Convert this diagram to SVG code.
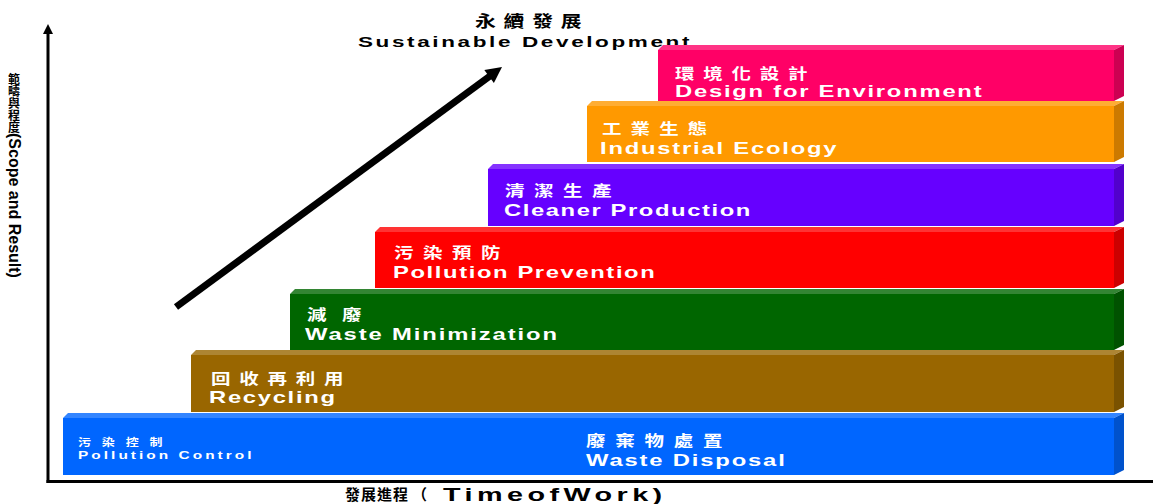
<svg xmlns="http://www.w3.org/2000/svg" width="1153" height="504" viewBox="0 0 1153 504">
<style>
.cjk{font-family:"Noto Sans CJK TC","Noto Sans CJK SC",sans-serif;font-weight:bold}
.lat{font-family:"Liberation Sans",Arial,sans-serif;font-weight:bold}
.w{fill:#fff}
.k{fill:#000}
</style>
<rect width="1153" height="504" fill="#fff"/>
<g id="axes">
<line x1="48" y1="32" x2="48" y2="483" stroke="#000" stroke-width="3"/>
<polygon points="48,24 43,34 53,34" fill="#000"/>
<line x1="46.5" y1="481.5" x2="1153" y2="481.5" stroke="#000" stroke-width="3"/>
<text class="cjk k" x="14" y="73" font-size="12" style="writing-mode:vertical-rl">範疇與程度<tspan class="lat" font-size="16">(Scope and Result)</tspan></text>
</g>
<g id="connectors">
<line x1="176" y1="307" x2="490" y2="76" stroke="#000" stroke-width="7"/>
<polygon points="502,67 493.9,82.9 484.3,70.1" fill="#000"/>
</g>
<g id="title">
<text class="cjk k" transform="translate(475,27) scale(1.3,1)" font-size="16" textLength="82" lengthAdjust="spacing">永續發展</text>
<text class="lat k" transform="translate(358,47) scale(1.5,1)" font-size="15" textLength="221" lengthAdjust="spacing">Sustainable Development</text>
</g>
<g id="bar-blue">
<polygon points="63,418 68,413 1124,413 1114,418" fill="#3385FF"/>
<rect x="63" y="418" width="1051" height="57" fill="#0066FF"/>
<polygon points="1114,418 1124,413 1124,470 1114,475" fill="#0052CC"/>
<text class="cjk w" transform="translate(78,446) scale(1.3,1)" font-size="10" textLength="65" lengthAdjust="spacing">污染控制</text>
<text class="lat w" transform="translate(78,459) scale(1.4,1)" font-size="11" textLength="124" lengthAdjust="spacing">Pollution Control</text>
<text class="cjk w" transform="translate(586,446) scale(1.3,1)" font-size="15" textLength="105" lengthAdjust="spacing">廢棄物處置</text>
<text class="lat w" transform="translate(586,466) scale(1.4,1)" font-size="17" textLength="142" lengthAdjust="spacing">Waste Disposal</text>
</g>
<g id="bar-brown">
<polygon points="191,355 196,350 1124,350 1114,355" fill="#AD8533"/>
<rect x="191" y="355" width="923" height="57" fill="#996600"/>
<polygon points="1114,355 1124,350 1124,407 1114,412" fill="#7A5200"/>
<text class="cjk w" transform="translate(211,384) scale(1.3,1)" font-size="15" textLength="102" lengthAdjust="spacing">回收再利用</text>
<text class="lat w" transform="translate(209,403) scale(1.4,1)" font-size="17" textLength="90" lengthAdjust="spacing">Recycling</text>
</g>
<g id="bar-green">
<polygon points="290,294 295,289 1124,289 1114,294" fill="#338533"/>
<rect x="290" y="294" width="824" height="56" fill="#006600"/>
<polygon points="1114,294 1124,289 1124,345 1114,350" fill="#005200"/>
<text class="cjk w" transform="translate(307,320) scale(1.3,1)" font-size="15" textLength="42" lengthAdjust="spacing">減廢</text>
<text class="lat w" transform="translate(305,340) scale(1.4,1)" font-size="17" textLength="180" lengthAdjust="spacing">Waste Minimization</text>
</g>
<g id="bar-red">
<polygon points="375,232 380,227 1124,227 1114,232" fill="#FF3333"/>
<rect x="375" y="232" width="739" height="56" fill="#FF0000"/>
<polygon points="1114,232 1124,227 1124,283 1114,288" fill="#CC0000"/>
<text class="cjk w" transform="translate(394,258) scale(1.3,1)" font-size="15" textLength="82" lengthAdjust="spacing">污染預防</text>
<text class="lat w" transform="translate(393,278) scale(1.4,1)" font-size="17" textLength="187" lengthAdjust="spacing">Pollution Prevention</text>
</g>
<g id="bar-purple">
<polygon points="488,169 493,164 1124,164 1114,169" fill="#8533FF"/>
<rect x="488" y="169" width="626" height="57" fill="#6600FF"/>
<polygon points="1114,169 1124,164 1124,221 1114,226" fill="#5200CC"/>
<text class="cjk w" transform="translate(505,196) scale(1.3,1)" font-size="15" textLength="82" lengthAdjust="spacing">清潔生產</text>
<text class="lat w" transform="translate(504,216) scale(1.4,1)" font-size="17" textLength="176" lengthAdjust="spacing">Cleaner Production</text>
</g>
<g id="bar-orange">
<polygon points="587,106 592,101 1124,101 1114,106" fill="#FFAD33"/>
<rect x="587" y="106" width="527" height="56" fill="#FF9900"/>
<polygon points="1114,106 1124,101 1124,157 1114,162" fill="#CC7A00"/>
<text class="cjk w" transform="translate(602,134) scale(1.3,1)" font-size="15" textLength="81" lengthAdjust="spacing">工業生態</text>
<text class="lat w" transform="translate(600,154) scale(1.4,1)" font-size="17" textLength="169" lengthAdjust="spacing">Industrial Ecology</text>
</g>
<g id="bar-pink">
<polygon points="658,50 663,45 1124,45 1114,50" fill="#FF3385"/>
<rect x="658" y="50" width="456" height="51" fill="#FF0066"/>
<polygon points="1114,50 1124,45 1124,96 1114,101" fill="#CC0052"/>
<text class="cjk w" transform="translate(675,79) scale(1.3,1)" font-size="15" textLength="102" lengthAdjust="spacing">環境化設計</text>
<text class="lat w" transform="translate(675,97) scale(1.4,1)" font-size="17" textLength="219" lengthAdjust="spacing">Design for Environment</text>
</g>
<g id="xlabel">
<text class="cjk k" x="345" y="500" font-size="15" textLength="63" lengthAdjust="spacing">發展進程</text>
<text class="cjk k" x="412" y="500" font-size="15">（</text>
<text class="lat k" transform="translate(443,501) scale(1.6,1)" font-size="18" textLength="137" lengthAdjust="spacing">TimeofWork)</text>
</g>
</svg>
